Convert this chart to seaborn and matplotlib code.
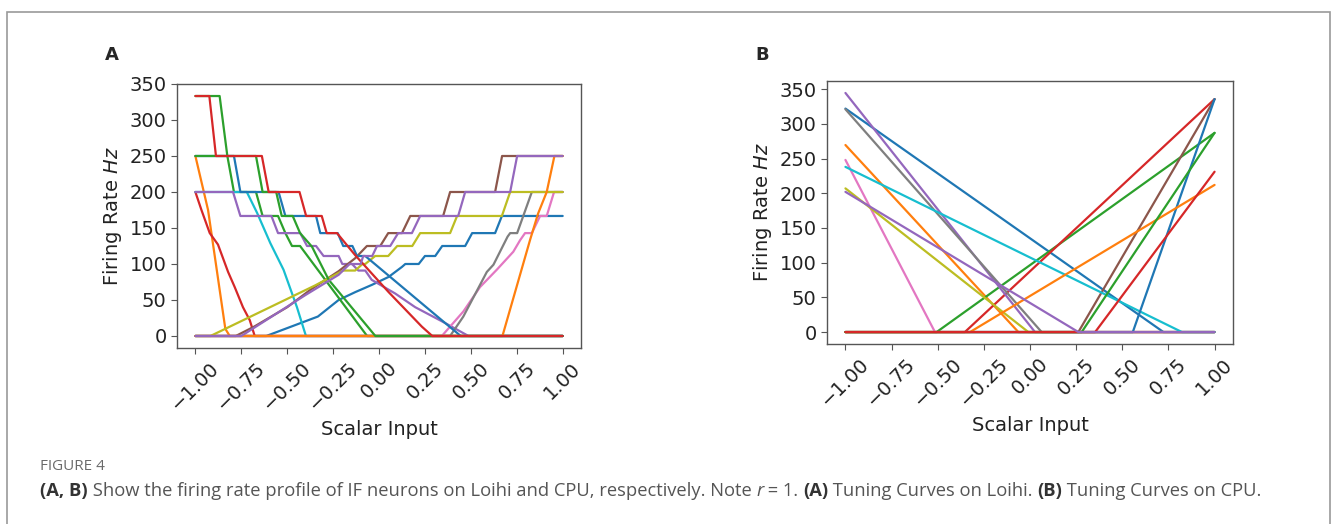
import numpy as np
import pandas as pd
import matplotlib
matplotlib.use("Agg")
import matplotlib.pyplot as plt
import seaborn as sns
from matplotlib.offsetbox import TextArea, HPacker, AnchoredOffsetbox
from matplotlib.patches import Rectangle

# ---- data ----
x_ticks = [-1.0, -0.75, -0.5, -0.25, 0.0, 0.25, 0.5, 0.75, 1.0]
y_ticks = [0, 50, 100, 150, 200, 250, 300, 350]

# Panel A: Loihi tuning curves (quantised firing rates)
loihi_blue_up_x = [-1.0, -0.614, -0.333, -0.22, -0.129, -0.039, 0.052, 0.125, 0.143, 0.216, 0.25, 0.306, 0.344, 0.469, 0.507, 0.632, 0.669, 1.0]
loihi_blue_up_y = [0, 0, 27, 50, 61, 71, 82, 96, 100, 100, 111.1, 111.1, 125, 125, 142.9, 142.9, 166.7, 166.7]
loihi_orange_down_x = [-1.0, -0.931, -0.837, -0.813, 1.0]
loihi_orange_down_y = [250, 175, 10, 0, 0]
loihi_green_big_x = [-1.0, -0.868, -0.826, -0.79, -0.67, -0.634, -0.55, -0.51, -0.474, -0.43, -0.065, 1.0]
loihi_green_big_y = [333.3, 333.3, 250, 200, 200, 166.7, 166.7, 142.9, 125, 125, 0, 0]
loihi_red_small_x = [-1.0, -0.967, -0.922, -0.877, -0.822, -0.786, -0.741, -0.704, -0.677, 1.0]
loihi_red_small_y = [200, 175, 143, 127, 89, 68, 40, 22, 0, 0]
loihi_cyan_x = [-1.0, -0.72, -0.664, -0.592, -0.52, -0.447, -0.398, 1.0]
loihi_cyan_y = [200, 200, 171, 129, 92, 40, 0, 0]
loihi_purple_down_x = [-1.0, -0.795, -0.755, -0.586, -0.55, -0.429, -0.392, -0.343, -0.302, -0.22, -0.2, -0.147, -0.113, -0.075, -0.04, 0.088, 0.197, 0.36, 0.487, 1.0]
loihi_purple_down_y = [200, 200, 166.7, 166.7, 142.9, 142.9, 125, 125, 111.1, 111.1, 100, 100, 90.9, 90.9, 78, 59, 40, 18, 0, 0]
loihi_brown_x = [-1.0, -0.78, -0.68, -0.5, -0.375, -0.22, -0.13, -0.066, 0.0065, 0.05, 0.125, 0.17, 0.349, 0.387, 0.632, 0.67, 1.0]
loihi_brown_y = [0, 0, 13, 40, 64, 90, 108, 125, 125, 142.9, 142.9, 166.7, 166.7, 200, 200, 250, 250]
loihi_pink_x = [-1.0, 0.342, 0.459, 0.55, 0.641, 0.731, 0.768, 0.795, 0.832, 0.877, 0.913, 0.953, 1.0]
loihi_pink_y = [0, 0, 34, 68, 92, 117, 133, 142.9, 142.9, 166.7, 166.7, 200, 200]
loihi_gray_x = [-1.0, 0.387, 0.459, 0.587, 0.623, 0.70, 0.714, 0.752, 0.832, 1.0]
loihi_gray_y = [0, 0, 27, 89, 99, 138, 142.9, 142.9, 200, 200]
loihi_olive_x = [-1.0, -0.918, -0.35, -0.195, -0.13, -0.09, -0.075, -0.021, 0.05, 0.099, 0.181, 0.224, 0.387, 0.425, 0.669, 0.714, 1.0]
loihi_olive_y = [0, 0, 70, 90.9, 90.9, 100, 100, 111.1, 111.1, 125, 125, 142.9, 142.9, 166.7, 166.7, 200, 200]
loihi_blue_down_x = [-1.0, -0.79, -0.755, -0.547, -0.51, -0.343, -0.32, -0.225, -0.195, -0.145, -0.12, -0.075, 0.36, 0.445, 1.0]
loihi_blue_down_y = [250, 250, 200, 200, 166.7, 166.7, 142.9, 142.9, 125, 125, 111.1, 111.1, 18, 0, 0]
loihi_orange_up_x = [-1.0, 0.672, 0.823, 0.866, 0.913, 0.955, 1.0]
loihi_orange_up_y = [0, 0, 134, 170, 200, 250, 250]
loihi_green_small_x = [-1.0, -0.67, -0.634, -0.56, -0.53, -0.47, -0.43, -0.365, -0.274, -0.02, 1.0]
loihi_green_small_y = [250, 250, 200, 200, 166.7, 166.7, 142.9, 124, 78, 0, 0]
loihi_red_big_x = [-1.0, -0.924, -0.888, -0.638, -0.601, -0.433, -0.397, -0.312, -0.285, -0.229, -0.129, 0.052, 0.233, 0.29, 1.0]
loihi_red_big_y = [333.3, 333.3, 250, 250, 200, 200, 166.7, 166.7, 142.9, 142.9, 112, 61, 13, 0, 0]
loihi_purple_up_x = [-1.0, -0.75, -0.40, -0.22, -0.16, -0.10, -0.086, -0.037, -0.011, 0.061, 0.104, 0.179, 0.224, 0.431, 0.469, 0.714, 0.752, 1.0]
loihi_purple_up_y = [0, 0, 57, 85, 100, 100, 111.1, 111.1, 125, 125, 142.9, 142.9, 166.7, 166.7, 200, 200, 250, 250]

# Panel B: CPU tuning curves (straight rectified lines)
cpu_blue_down_x = [-1.0, 0.723, 1.0];     cpu_blue_down_y = [322, 0, 0]
cpu_orange_down_x = [-1.0, -0.063, 1.0];  cpu_orange_down_y = [269.5, 0, 0]
cpu_green_up_x = [-1.0, -0.506, 1.0];     cpu_green_up_y = [0, 0, 287]
cpu_red_up_x = [-1.0, -0.353, 1.0];       cpu_red_up_y = [0, 0, 335.6]
cpu_purple_down_x = [-1.0, 0.027, 1.0];   cpu_purple_down_y = [344.5, 0, 0]
cpu_brown_up_x = [-1.0, 0.262, 1.0];      cpu_brown_up_y = [0, 0, 335.6]
cpu_pink_down_x = [-1.0, -0.515, 1.0];    cpu_pink_down_y = [248, 0, 0]
cpu_gray_down_x = [-1.0, 0.063, 1.0];     cpu_gray_down_y = [321, 0, 0]
cpu_olive_down_x = [-1.0, -0.009, 1.0];   cpu_olive_down_y = [207, 0, 0]
cpu_cyan_down_x = [-1.0, 0.823, 1.0];     cpu_cyan_down_y = [238, 0, 0]
cpu_blue_up_x = [-1.0, 0.557, 1.0];       cpu_blue_up_y = [0, 0, 335.6]
cpu_orange_up_x = [-1.0, -0.325, 1.0];    cpu_orange_up_y = [0, 0, 212]
cpu_green_up2_x = [-1.0, 0.28, 1.0];      cpu_green_up2_y = [0, 0, 287]
cpu_red_up2_x = [-1.0, 0.353, 1.0];       cpu_red_up2_y = [0, 0, 231]
cpu_purple_down2_x = [-1.0, 0.262, 1.0];  cpu_purple_down2_y = [202, 0, 0]

tab = sns.color_palette("tab10")
C = dict(blue=tab[0], orange=tab[1], green=tab[2], red=tab[3], purple=tab[4],
         brown=tab[5], pink=tab[6], gray=tab[7], olive=tab[8], cyan=tab[9])

# drawing order matters for overlaps
loihi_curves = [
    ("blue", loihi_blue_up_x, loihi_blue_up_y),
    ("orange", loihi_orange_down_x, loihi_orange_down_y),
    ("green", loihi_green_big_x, loihi_green_big_y),
    ("red", loihi_red_small_x, loihi_red_small_y),
    ("cyan", loihi_cyan_x, loihi_cyan_y),
    ("purple", loihi_purple_down_x, loihi_purple_down_y),
    ("brown", loihi_brown_x, loihi_brown_y),
    ("pink", loihi_pink_x, loihi_pink_y),
    ("gray", loihi_gray_x, loihi_gray_y),
    ("olive", loihi_olive_x, loihi_olive_y),
    ("blue", loihi_blue_down_x, loihi_blue_down_y),
    ("orange", loihi_orange_up_x, loihi_orange_up_y),
    ("green", loihi_green_small_x, loihi_green_small_y),
    ("red", loihi_red_big_x, loihi_red_big_y),
    ("purple", loihi_purple_up_x, loihi_purple_up_y),
]
cpu_curves = [
    ("blue", cpu_blue_down_x, cpu_blue_down_y),
    ("orange", cpu_orange_down_x, cpu_orange_down_y),
    ("green", cpu_green_up_x, cpu_green_up_y),
    ("red", cpu_red_up_x, cpu_red_up_y),
    ("purple", cpu_purple_down_x, cpu_purple_down_y),
    ("brown", cpu_brown_up_x, cpu_brown_up_y),
    ("pink", cpu_pink_down_x, cpu_pink_down_y),
    ("gray", cpu_gray_down_x, cpu_gray_down_y),
    ("olive", cpu_olive_down_x, cpu_olive_down_y),
    ("cyan", cpu_cyan_down_x, cpu_cyan_down_y),
    ("blue", cpu_blue_up_x, cpu_blue_up_y),
    ("orange", cpu_orange_up_x, cpu_orange_up_y),
    ("green", cpu_green_up2_x, cpu_green_up2_y),
    ("red", cpu_red_up2_x, cpu_red_up2_y),
    ("purple", cpu_purple_down2_x, cpu_purple_down2_y),
]


def to_long(curves):
    rows = []
    for i, (col, xs, ys) in enumerate(curves):
        for xv, yv in zip(xs, ys):
            rows.append({"neuron": f"n{i}", "x": xv, "rate": yv})
    df = pd.DataFrame(rows)
    pal = {f"n{i}": C[c[0]] for i, c in enumerate(curves)}
    order = [f"n{i}" for i in range(len(curves))]
    return df, pal, order


sns.set_style("ticks")
plt.rcParams["font.family"] = ["DejaVu Sans"]
plt.rcParams["mathtext.fontset"] = "dejavusans"

fig = plt.figure(figsize=(13.33, 5.24), dpi=100)
ax_a = fig.add_axes([0.1328, 0.3359, 0.3031, 0.5038])
ax_b = fig.add_axes([0.6204, 0.3435, 0.3046, 0.5019])

spine_col = "#555555"
for ax, curves in ((ax_a, loihi_curves), (ax_b, cpu_curves)):
    df, pal, order = to_long(curves)
    sns.lineplot(data=df, x="x", y="rate", hue="neuron", hue_order=order,
                 palette=pal, estimator=None, sort=False, legend=False,
                 linewidth=1.6, ax=ax)
    ax.set_xticks(x_ticks)
    ax.set_xticklabels([f"{t:.2f}".replace("-", "\u2212") for t in x_ticks],
                       rotation=45)
    ax.set_yticks(y_ticks)
    ax.tick_params(labelsize=14, colors="#222222", length=4)
    ax.set_xlabel("Scalar Input", fontsize=14, color="#222222")
    ax.set_ylabel("Firing Rate $Hz$", fontsize=14, color="#222222")
    for sp in ax.spines.values():
        sp.set_color(spine_col)
        sp.set_linewidth(1.0)
        sp.set_visible(True)
    ax.tick_params(color=spine_col)

fig.text(112 / 1333, 1 - 55 / 524, "A", fontsize=13, fontweight="bold",
         ha="center", va="center")
fig.text(762 / 1333, 1 - 55 / 524, "B", fontsize=13, fontweight="bold",
         ha="center", va="center")

# frame around figure + caption
fig.patches.append(Rectangle((7 / 1333, -0.05), 1323 / 1333, 1.05 - 12 / 524,
                             transform=fig.transFigure, fill=False,
                             edgecolor="#9a9a9a", linewidth=1.2))

fig.text(40 / 1333, 1 - 467 / 524, "FIGURE 4", fontsize=11, color="#6a6a6a",
         family="Open Sans", va="center", ha="left")

grey = "#555555"
pieces = [
    ("(A, B)", dict(fontweight="bold", color="#333333")),
    (" Show the firing rate profile of IF neurons on Loihi and CPU, respectively. Note ", {}),
    ("r", dict(style="italic")),
    (" = 1. ", {}),
    ("(A)", dict(fontweight="bold", color="#333333")),
    (" Tuning Curves on Loihi. ", {}),
    ("(B)", dict(fontweight="bold", color="#333333")),
    (" Tuning Curves on CPU.", {}),
]
areas = []
for s, props in pieces:
    tp = dict(family="Open Sans", fontsize=13.25, color=grey)
    tp.update(props)
    areas.append(TextArea(s, textprops=tp))
pack = HPacker(children=areas, align="baseline", pad=0, sep=0)
anch = AnchoredOffsetbox(loc="lower left", child=pack, pad=0, borderpad=0,
                         frameon=False, bbox_to_anchor=(40 / 1333, 1 - 500 / 524),
                         bbox_transform=fig.transFigure)
fig.add_artist(anch)

fig.savefig("out.png", dpi=100, facecolor="white")
